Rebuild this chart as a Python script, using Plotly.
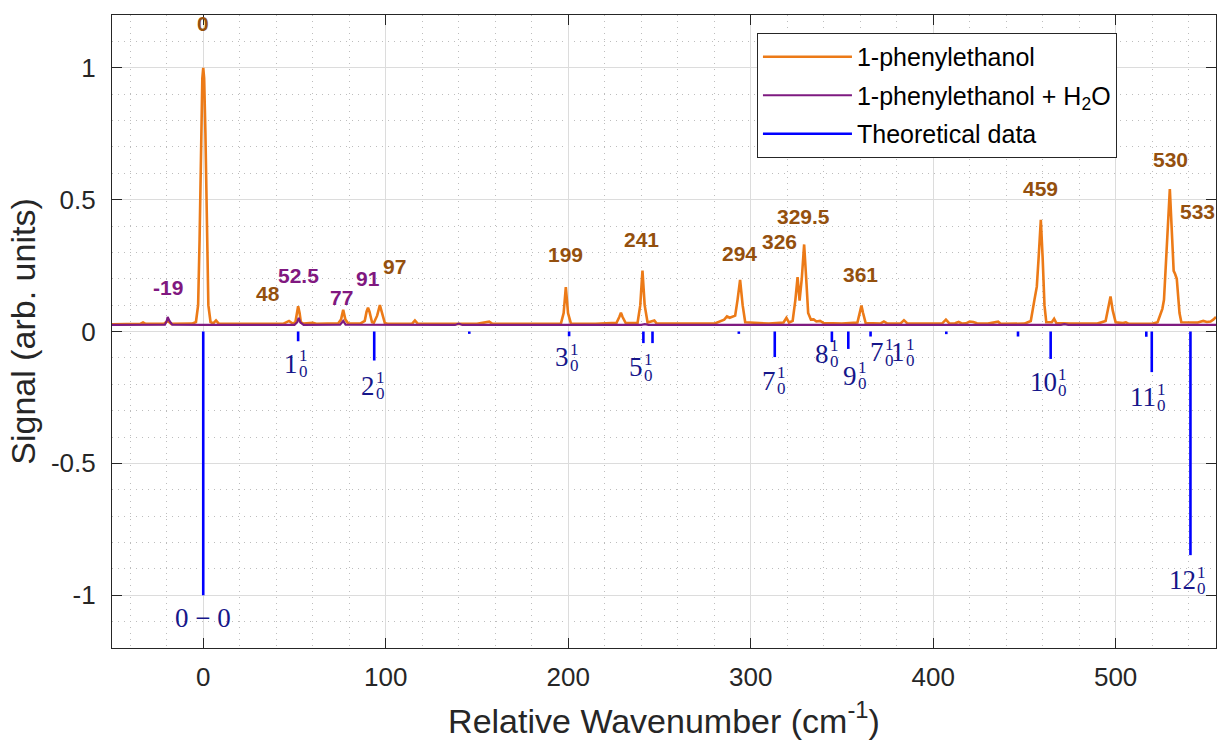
import plotly.graph_objects as go

# ---------------- data ----------------
# 1-phenylethanol spectrum (x: relative wavenumber, y: signal)
ph_x = [-50, -40, -34.5, -33, -31.5, -21.5, -19.5, -17.5, -6, -4, -2.8, -2, -1.2, -0.5, 0, 0.5, 1.2, 2, 2.8, 4,
        5.5, 7, 8.5, 20, 35, 44, 47, 49, 50.5, 51.2, 52, 52.8, 53.5, 55, 60, 62, 70, 74, 75.5, 76.7, 77.9, 79.5,
        86, 88.5, 89.5, 90.3, 91.1, 92.5, 93.5, 95.3, 96.8, 98.2, 99.5, 101, 114.5, 116, 117.5, 130, 150,
        156.7, 158.5, 170, 185, 196, 197.5, 198.7, 199.9, 201.5, 215, 226.5, 228, 228.9, 229.8, 231.5, 238,
        239.5, 240.7, 241.9, 243.5, 246, 247.2, 248.5, 265, 280, 285.5, 287, 288.5, 290, 291.5, 292.8, 294.2,
        295.6, 297, 310, 318, 319.6, 321, 323, 324.5, 325.7, 326.8, 328, 329.3, 330.6, 331.5, 333, 334.5, 336,
        338, 340, 350, 358.5, 359.8, 360.7, 361.6, 363, 371, 373, 375, 382, 384, 386, 400, 405, 407, 409, 412,
        414, 416, 418, 420, 422, 424, 430, 435.6, 437, 450, 453.5, 455.5, 456.8, 457.8, 459, 460, 461, 462,
        465, 466.3, 467.5, 475, 490, 494.5, 496, 497.2, 498.4, 500, 504, 505.6, 507, 520, 523, 525, 525.6,
        526.5, 528, 529.7, 531, 531.8, 532.6, 533.5, 535, 536, 545, 548, 550, 552, 553.5, 555]
ph_y = [0.027, 0.028, 0.029, 0.034, 0.029, 0.029, 0.040, 0.029, 0.030, 0.036, 0.10, 0.35, 0.75, 0.96, 1.0,
        0.96, 0.75, 0.35, 0.10, 0.036, 0.031, 0.042, 0.030, 0.029, 0.029, 0.030, 0.040, 0.030, 0.035, 0.07,
        0.096, 0.07, 0.035, 0.030, 0.033, 0.029, 0.029, 0.031, 0.045, 0.082, 0.045, 0.030, 0.030, 0.040,
        0.075, 0.090, 0.075, 0.035, 0.033, 0.06, 0.100, 0.06, 0.032, 0.029, 0.030, 0.042, 0.030, 0.029,
        0.029, 0.037, 0.029, 0.029, 0.029, 0.030, 0.07, 0.168, 0.07, 0.030, 0.029, 0.033, 0.055, 0.071,
        0.055, 0.032, 0.032, 0.10, 0.231, 0.10, 0.034, 0.040, 0.042, 0.030, 0.029, 0.030, 0.045, 0.057,
        0.052, 0.057, 0.060, 0.12, 0.196, 0.10, 0.035, 0.030, 0.034, 0.052, 0.034, 0.040, 0.12, 0.206,
        0.117, 0.20, 0.33, 0.18, 0.07, 0.045, 0.046, 0.038, 0.040, 0.032, 0.030, 0.034, 0.07, 0.098, 0.07,
        0.032, 0.030, 0.038, 0.030, 0.030, 0.043, 0.030, 0.030, 0.031, 0.045, 0.030, 0.031, 0.036, 0.030,
        0.031, 0.038, 0.036, 0.031, 0.030, 0.037, 0.029, 0.030, 0.040, 0.12, 0.17, 0.28, 0.423, 0.28, 0.10,
        0.035, 0.035, 0.048, 0.032, 0.030, 0.030, 0.040, 0.09, 0.133, 0.08, 0.035, 0.032, 0.035, 0.030,
        0.029, 0.035, 0.07, 0.086, 0.12, 0.30, 0.54, 0.35, 0.23, 0.218, 0.20, 0.07, 0.035, 0.034, 0.040,
        0.036, 0.038, 0.045, 0.055]

# 1-phenylethanol + H2O spectrum
hw_x = [-50, -30, -21, -20, -19.5, -18.5, -17, 0, 30, 50, 51.5, 52.3, 53.2, 55, 75, 76.7, 78, 120, 138, 140,
        142, 240, 242, 244, 300, 400, 470, 472, 474, 555]
hw_y = [0.025, 0.025, 0.026, 0.040, 0.055, 0.040, 0.026, 0.025, 0.025, 0.025, 0.035, 0.052, 0.035, 0.025,
        0.026, 0.040, 0.026, 0.025, 0.025, 0.030, 0.025, 0.025, 0.028, 0.025, 0.025, 0.025, 0.025, 0.028,
        0.025, 0.025]

# Theoretical stick spectrum (negative)
stick_x = [0, 52.0, 93.7, 145.8, 200.5, 241.2, 246.2, 293.5, 313.2, 344.5, 353.5, 365.7, 407.2, 446.5,
           464.4, 516.8, 519.8, 541.0]
stick_h = [-1.0, -0.037, -0.11, -0.009, -0.018, -0.044, -0.044, -0.009, -0.097, -0.040, -0.066, -0.019,
           -0.010, -0.019, -0.104, -0.020, -0.154, -0.848]

# Peak labels
pk_text = ["0", "-19", "48", "52.5", "77", "91", "97", "199", "241", "294", "326", "329.5", "361", "459",
           "530", "533"]
pk_x = [0, -19.5, 35.6, 52, 75.8, 90.4, 104.7, 198.7, 240.2, 293.7, 315.6, 329.0, 360.4, 459, 529.9, 544.8]
pk_y = [1.167, 0.168, 0.143, 0.212, 0.13, 0.202, 0.246, 0.292, 0.348, 0.297, 0.342, 0.436, 0.218, 0.544,
        0.654, 0.455]
pk_group = ["m", "w", "m", "w", "w", "w", "m", "m", "m", "m", "m", "m", "m", "m", "m", "m"]

# Theoretical assignment labels  (base number, superscript 1, subscript 0)
th_text = ["1", "2", "3", "5", "7", "8", "9", "7", "1", "10", "11", "12"]
th_x = [51.7, 94.2, 200.2, 241.2, 313.8, 342.7, 358.4, 372.9, 384.4, 467.9, 522.0, 544.3]
th_y = [-0.122, -0.205, -0.097, -0.135, -0.186, -0.085, -0.167, -0.078, -0.078, -0.192, -0.249, -0.943]
origin_label = "0 \u2212 0"
origin_x, origin_y = 0, -1.085

# ---------------- styling ----------------
ORANGE = "#EC7A17"
PURPLE = "#7E1A80"
BLUE = "#0000FF"
BROWN = "#94500E"
LPURPLE = "#801880"
NAVY = "#16168A"
AX = "#262626"
SANS = "Liberation Sans, Arial, Helvetica, sans-serif"
SERIF = "Liberation Serif, DejaVu Serif, serif"

fig = go.Figure()

fig.add_trace(go.Scatter(x=ph_x, y=ph_y, mode="lines", name="1-phenylethanol",
                         line=dict(color=ORANGE, width=2.6), legendgroup="a"))
fig.add_trace(go.Scatter(x=hw_x, y=hw_y, mode="lines", name="1-phenylethanol + H<sub>2</sub>O",
                         line=dict(color=PURPLE, width=2.2), legendgroup="b"))

sx, sy = [], []
for xv, hv in zip(stick_x, stick_h):
    sx += [xv, xv, None]
    sy += [0, hv, None]
fig.add_trace(go.Scatter(x=sx, y=sy, mode="lines", name="Theoretical data",
                         line=dict(color=BLUE, width=2.6), legendgroup="c"))

ann = []
for t, xv, yv, g in zip(pk_text, pk_x, pk_y, pk_group):
    ann.append(dict(x=xv, y=yv, text="<b>%s</b>" % t, showarrow=False,
                    font=dict(family=SANS, size=21, color=BROWN if g == "m" else LPURPLE),
                    xanchor="center", yanchor="middle"))
for t, xv, yv in zip(th_text, th_x, th_y):
    ann.append(dict(x=xv, y=yv, text=t, showarrow=False, font=dict(family=SERIF, size=27, color=NAVY),
                    xanchor="right", yanchor="middle", borderpad=0, xshift=1))
    ann.append(dict(x=xv, y=yv, text="1", showarrow=False, font=dict(family=SERIF, size=17, color=NAVY),
                    xanchor="left", yanchor="middle", borderpad=0, yshift=8, xshift=0))
    ann.append(dict(x=xv, y=yv, text="0", showarrow=False, font=dict(family=SERIF, size=17, color=NAVY),
                    xanchor="left", yanchor="middle", borderpad=0, yshift=-8, xshift=0))
ann.append(dict(x=origin_x, y=origin_y, text=origin_label, showarrow=False,
                font=dict(family=SERIF, size=27, color=NAVY), xanchor="center", yanchor="middle"))

fig.update_layout(
    width=1218, height=745,
    margin=dict(l=112, r=2, t=15, b=97, autoexpand=False),
    paper_bgcolor="white", plot_bgcolor="white",
    font=dict(family=SANS, color=AX),
    annotations=ann,
    showlegend=True,
    legend=dict(x=0.5842, y=0.9716, xanchor="left", yanchor="top", bgcolor="white",
                bordercolor=AX, borderwidth=1, font=dict(family=SANS, size=25, color="black"),
                itemwidth=89, traceorder="grouped", tracegroupgap=3),
    xaxis=dict(range=[-50, 555], tickvals=[0, 100, 200, 300, 400, 500], ticks="inside", ticklen=10,
               tickcolor=AX, showline=True, linecolor=AX, linewidth=1.2, mirror="ticks",
               showgrid=True, gridcolor="#DCDCDC", gridwidth=1, zeroline=False, automargin=False,
               tickfont=dict(size=26, color=AX), ticklabelstandoff=6,
               title=dict(text="Relative Wavenumber (cm<sup>-1</sup>)", font=dict(size=34, color=AX),
                          standoff=17),
               minor=dict(dtick=20, tick0=0, showgrid=True, gridcolor="#BDBDBD", griddash="1px,5px",
                          gridwidth=1, ticks="")),
    yaxis=dict(range=[-1.2, 1.2], tickvals=[-1, -0.5, 0, 0.5, 1], ticktext=["-1", "-0.5", "0", "0.5", "1"],
               ticks="inside", ticklen=10, tickcolor=AX, showline=True, linecolor=AX, linewidth=1.2,
               mirror="ticks", showgrid=True, gridcolor="#DCDCDC", gridwidth=1, zeroline=False,
               automargin=False, tickfont=dict(size=26, color=AX), ticklabelstandoff=10,
               title=dict(text="Signal (arb. units)", font=dict(size=34, color=AX), standoff=4),
               minor=dict(dtick=0.1, tick0=0, showgrid=True, gridcolor="#BDBDBD", griddash="1px,5px",
                          gridwidth=1, ticks="")),
)

# remove the browser's default 8px page margin so the 1218x745 figure fills the window exactly
fig.write_html("out.html", config={"displayModeBar": False},
               post_script="document.body.style.margin='0';document.body.style.overflow='hidden';")
